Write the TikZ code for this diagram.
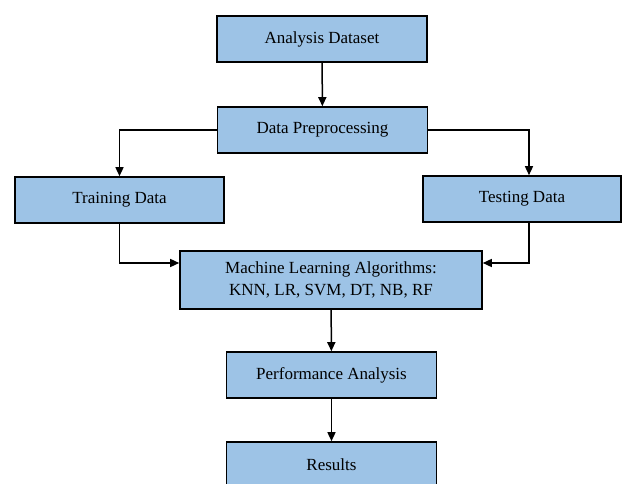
\documentclass[tikz,border=0pt]{standalone}
\usepackage{fontspec}
\setmainfont{Liberation Serif}
\newfontfamily\stagefont{Liberation Serif}
\usetikzlibrary{arrows.meta}

\definecolor{boxblue}{RGB}{157,195,230}

\tikzset{
	stage/.style={shape=rectangle, draw=black, line width=1.6pt, fill=boxblue,
		minimum width=210pt, minimum height=46pt, inner sep=0pt, align=center,
		font=\stagefont\fontsize{17}{22}\selectfont},
	flow/.style={-{Triangle[width=8pt,length=9pt]}, line width=1.5pt}
}

\begin{document}
\begin{tikzpicture}[x=1pt, y=-1pt]

	\clip (0, 0) rectangle (622, 484);

	\node[stage] (data) at (322, 39)   {Analysis Dataset};
	\node[stage] (prep) at (322.5, 130) {Data Preprocessing};
	\node[stage, minimum width=209pt] (train) at (119.5, 200) {Training Data};
	\node[stage, minimum width=198pt] (test)  at (522, 199)   {Testing Data};
	\node[stage, minimum width=302pt, minimum height=58pt] (ml) at (331, 280)
		{Machine Learning Algorithms:\\KNN, LR, SVM, DT, NB, RF};
	\node[stage] (perf) at (331.5, 375) {Performance Analysis};
	\node[stage] (res)  at (331.5, 465) {Results};

	\path[flow] (data) edge (prep);
	\draw[flow] (prep.west) -| (train.north);
	\draw[flow] (prep.east) -| ([xshift=7pt]test.north);
	\draw[flow] (train.south) |- ([yshift=17pt]ml.west);
	\draw[flow] ([xshift=7pt]test.south) |- ([yshift=17pt]ml.east);
	\path[flow] (ml) edge (perf);
	\path[flow] (perf) edge (res);

\end{tikzpicture}
\end{document}
